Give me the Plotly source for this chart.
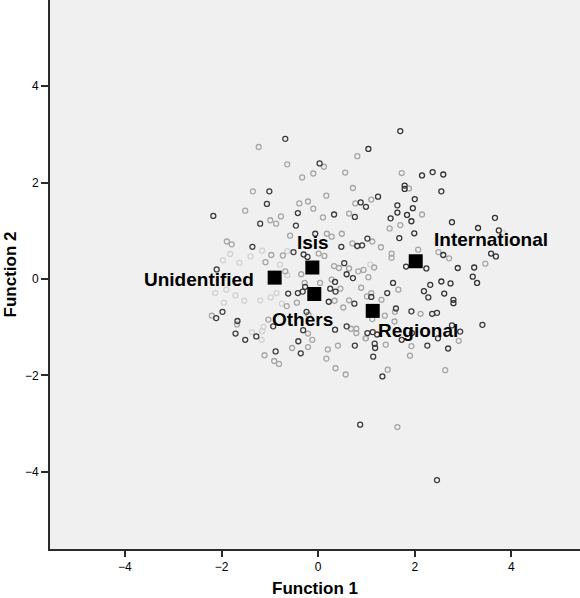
import plotly.graph_objects as go

# Group centroids (Function 1, Function 2)
centroid_names = ["Unidentified", "Isis", "Others", "Regional", "International"]
centroid_x = [-0.90, -0.12, -0.08, 1.13, 2.02]
centroid_y = [0.03, 0.24, -0.31, -0.66, 0.37]

# Cases per group (discriminant scores)
intl_x = [1.70, 1.04, 2.15, 2.37, 2.59, 1.79, 1.79, 2.55, 1.24, 2.00, 1.64, 1.96, 1.64, 1.84, 1.50, 1.93,
          2.77, 3.66, 3.31, 3.74, 1.99, 1.68, 2.59, 1.82, 2.24, 2.89, 3.23, 3.58, 3.68, 2.32, 2.55, 2.74,
          3.20, 3.29, 2.19, 2.61, 2.80, 2.80]
intl_y = [3.07, 2.70, 2.15, 2.22, 2.17, 1.94, 1.87, 1.82, 1.71, 1.66, 1.53, 1.47, 1.38, 1.33, 1.26, 1.20,
          1.18, 1.27, 1.06, 1.01, 0.95, 0.85, 0.50, 0.26, 0.22, 0.23, 0.24, 0.53, 0.47, -0.12, -0.05, -0.09,
          0.05, -0.08, -0.25, -0.30, -0.43, -0.50]

regional_x = [0.88, 0.99, 0.76, 1.02, 0.81, 0.91, 0.48, 0.54, 0.59, 0.72, 0.35, 0.25, 0.36, 0.22, 0.75,
              0.76, 0.59, 0.35, 1.55, 1.10, 1.43, 2.28, 1.61, 1.93, 2.36, 2.46, 2.77, 2.94, 3.40, 1.02,
              1.13, 1.22, 1.73, 1.94, 2.48, 1.17, 1.18, 2.26, 2.69, 1.14, 1.33, 2.46]
regional_y = [1.59, 1.50, 1.29, 0.84, 0.69, 0.70, 0.67, 0.33, 0.10, 0.02, -0.06, -0.20, -0.26, -0.47, -0.51,
              -1.38, -0.98, -1.05, -0.08, -0.37, -0.29, -0.38, -0.61, -0.67, -0.72, -0.70, -0.96, -1.09, -0.95, -1.12,
              -1.10, -1.15, -1.26, -1.12, -1.23, -1.34, -1.43, -1.38, -1.44, -1.61, -2.02, -4.17]

others_x = [-0.68, 0.03, -1.01, -1.06, -2.17, -0.42, 0.33, -1.20, -0.46, -0.06, -1.36, -0.51, -0.30, -0.22,
            -0.62, -0.42, -0.32, -0.27, -0.24, -1.98, -1.67, -1.71, -1.51, -1.28, -0.93, -0.31, -0.41, -0.36,
            -0.88, -2.10, -2.11, 0.87]
others_y = [2.91, 2.40, 1.82, 1.56, 1.31, 1.37, 1.34, 1.15, 1.11, 0.94, 0.67, 0.56, 0.51, 0.46,
            -0.30, -0.29, -0.26, -0.16, -0.68, -0.68, -0.87, -1.13, -1.26, -1.19, -0.98, -1.06, -1.29, -1.54,
            -1.50, 0.20, -0.81, -3.02]

isis_x = [-1.23, -0.64, 0.12, 0.56, -0.10, -0.33, 0.17, -0.21, -0.39, -0.10, 0.10, 0.64, -1.35, -1.51, -0.77,
          -0.99, -0.87, -0.58, 0.18, 0.28, 0.49, -1.89, -1.79, 0.81, 1.73, 1.88, 0.72, 1.10, 0.77, 2.15, 1.70,
          1.48, 1.12, 0.71, 1.30, -0.97, -0.73, -1.09, 0.01, 0.13, 0.81, 0.64, 0.83, 0.94, 0.43, 0.33, -0.68,
          -0.35, 0.28, 0.46, 0.89, 1.01, -0.28, 0.04, -0.44, 0.34, 0.64, 0.52, -0.20, -2.20, -1.68, -1.03,
          -0.21, -0.12, -0.21, -0.54, -1.11, -0.91, -0.81, 0.20, 0.41, 0.68, 0.79, 0.79, 0.99, 0.17, 0.36, 0.57,
          2.07, 2.49, 2.71, 3.46, 1.52, 1.52, 1.16, 1.04, 1.66, 1.10, 1.31, 1.59, 2.12, 1.38, 1.12, 1.58, 2.91,
          1.40, 1.93, 1.90, 1.44, 2.63, 1.64, -0.65]
isis_y = [2.74, 2.38, 2.33, 2.21, 2.19, 2.11, 1.73, 1.61, 1.57, 1.46, 1.28, 1.36, 1.82, 1.42, 1.30,
          1.22, 1.15, 0.90, 0.94, 0.88, 0.94, 0.78, 0.72, 2.55, 2.20, 1.88, 1.89, 1.65, 1.57, 1.34, 1.12,
          1.05, 0.78, 0.74, 0.66, 0.50, 0.49, 0.35, 0.53, 0.48, 0.68, 0.22, 0.16, 0.19, 0.23, 0.27, 0.16,
          0.10, -0.01, -0.20, -0.18, -0.36, -0.08, -0.08, -0.49, -0.45, -0.44, -0.59, -0.74, -0.76, -0.94, -0.84,
          -1.13, -1.26, -1.41, -1.43, -1.58, -1.70, -1.76, -1.46, -1.38, -1.03, -1.03, -1.12, -1.23, -1.65, -1.85, -1.98,
          0.61, 0.56, 0.43, 0.32, 0.53, 0.44, 0.24, 0.04, -0.22, -0.29, -0.43, -0.68, -0.72, -0.76, -0.83, -0.88, -1.28,
          -1.36, -1.39, -1.59, -1.88, -1.89, -3.07, -0.56]

unident_x = [-1.40, -1.16, -0.64, -1.82, -1.97, -1.63, -0.79, -0.64, -2.13, -1.90, -1.71, -1.53, -1.20, -0.98,
             -0.75, -1.95, -0.86, -1.37, -1.16, -1.17, -1.13, 0.97, 1.08, 3.83]
unident_y = [0.47, 0.59, 0.58, 0.52, 0.39, 0.34, 0.30, 0.08, -0.29, -0.22, -0.34, -0.45, -0.44, -0.38,
             -0.51, -0.49, -0.29, -1.10, -1.08, -1.26, -0.99, -1.23, 0.30, 0.96]

groups = [
    ("Unidentified", unident_x, unident_y, "#d2d2d2"),
    ("Isis", isis_x, isis_y, "#a6a6a6"),
    ("Others", others_x, others_y, "#3c3c3c"),
    ("Regional", regional_x, regional_y, "#3a3a3a"),
    ("International", intl_x, intl_y, "#333333"),
]

# label positions for centroid names (text centre, in function units)
label_x = [-2.46, -0.10, -0.33, 2.07, 3.58]
label_y = [0.00, 0.76, -0.84, -1.07, 0.82]

fig = go.Figure()
for name, gx, gy, col in groups:
    fig.add_trace(go.Scatter(
        x=gx, y=gy, mode="markers", name=name, showlegend=False,
        marker=dict(symbol="circle-open", size=5, color=col, line=dict(width=1.3, color=col)),
        hoverinfo="skip"))

fig.add_trace(go.Scatter(
    x=centroid_x, y=centroid_y, mode="markers", name="Group Centroid", showlegend=False,
    marker=dict(symbol="square", size=14, color="black", line=dict(width=0))))

for n, lx, ly in zip(centroid_names, label_x, label_y):
    fig.add_annotation(x=lx, y=ly, xref="x", yref="y", text="<b>%s</b>" % n, showarrow=False,
                       font=dict(family="Liberation Sans, Arial, sans-serif", size=19, color="black"))

fig.update_layout(
    width=580, height=598,
    margin=dict(l=50, r=0, t=0, b=49),
    paper_bgcolor="white", plot_bgcolor="#f0f0f0",
    font=dict(family="Liberation Sans, Arial, sans-serif", color="black"),
    xaxis=dict(range=[-5.55, 5.42], tickvals=[-4, -2, 0, 2, 4], showgrid=False, zeroline=False,
               showline=True, linecolor="#2a2a2a", linewidth=2, ticks="outside", ticklen=6, tickwidth=1.5,
               tickcolor="#2a2a2a", tickfont=dict(size=12),
               title=dict(text="<b>Function 1</b>", font=dict(size=17), standoff=10)),
    yaxis=dict(range=[-5.6, 5.79], tickvals=[-4, -2, 0, 2, 4], showgrid=False, zeroline=False,
               showline=True, linecolor="#2a2a2a", linewidth=2, ticks="outside", ticklen=7, tickwidth=1.5,
               tickcolor="#2a2a2a", tickfont=dict(size=12),
               title=dict(text="<b>Function 2</b>", font=dict(size=17), standoff=4)),
)

fig.write_html("out.html")
